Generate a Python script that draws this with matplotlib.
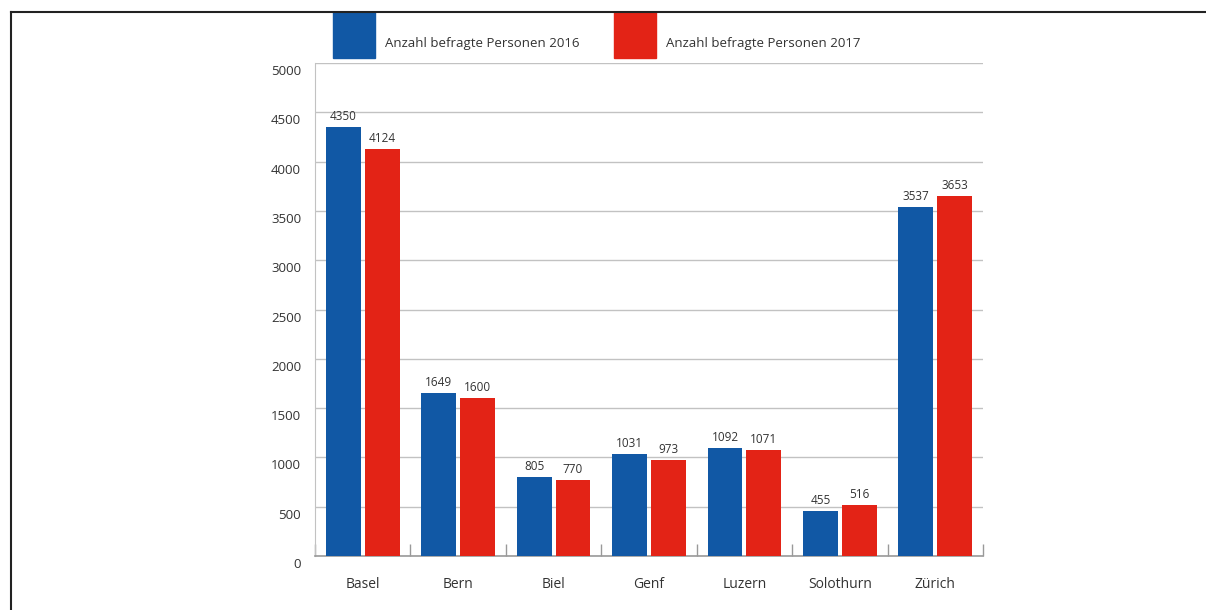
import matplotlib.pyplot as plt
import numpy as np
from matplotlib.lines import Line2D
from matplotlib.patches import Rectangle
import matplotlib.transforms as mtransforms

# Data
cities = ['Basel', 'Bern', 'Biel', 'Genf', 'Luzern', 'Solothurn', 'Zürich']
persons_2016 = [4350, 1649, 805, 1031, 1092, 455, 3537]
persons_2017 = [4124, 1600, 770, 973, 1071, 516, 3653]
series_labels = ['Anzahl befragte Personen 2016', 'Anzahl befragte Personen 2017']
yticks = [0, 500, 1000, 1500, 2000, 2500, 3000, 3500, 4000, 4500, 5000]

blue = '#1158a5'
red = '#e32316'
grid_col = '#c2c2c2'
txt = '#333333'

plt.rcParams['font.family'] = ['Open Sans', 'DejaVu Sans']

fig = plt.figure(figsize=(12.06, 6.10), dpi=100)
ax = fig.add_axes([0.2612, 0.0885, 0.5539, 0.8082])

x = np.arange(len(cities))
w = 0.365
off = 0.204
b1 = ax.bar(x - off, persons_2016, w, color=blue, zorder=3)
b2 = ax.bar(x + off, persons_2017, w, color=red, zorder=3)

for bars, vals in ((b1, persons_2016), (b2, persons_2017)):
    for rect, v in zip(bars, vals):
        ax.text(rect.get_x() + rect.get_width() / 2, v + 40, str(v),
                ha='center', va='bottom', fontsize=8.5, color=txt)

ax.set_xlim(-0.5, len(cities) - 0.5)
ax.set_ylim(0, 5000)
ax.set_yticks(yticks)
ax.set_yticklabels([str(t) for t in yticks], fontsize=9.5, color=txt)
ax.yaxis.grid(True, color=grid_col, linewidth=1, zorder=0)
ax.tick_params(axis='y', length=0, pad=10)
# labels sit a little below their gridlines in the original
shift = mtransforms.ScaledTranslation(0, -7 / 100, fig.dpi_scale_trans)
for lbl in ax.get_yticklabels():
    lbl.set_transform(lbl.get_transform() + shift)

ax.set_xticks(x)
ax.set_xticklabels(cities, fontsize=10, color=txt)
ax.tick_params(axis='x', which='major', length=0, pad=15)
ax.set_xticks(np.arange(-0.5, len(cities)), minor=True)
ax.tick_params(axis='x', which='minor', direction='in', length=9,
               color='#999999', width=1)

for s in ('top', 'right'):
    ax.spines[s].set_visible(False)
ax.spines['left'].set_color(grid_col)
ax.spines['bottom'].set_color('#999999')
ax.spines['bottom'].set_linewidth(1.2)

# Legend drawn as squares with text
for xs, col, lab in ((333, blue, series_labels[0]), (614, red, series_labels[1])):
    fig.patches.append(Rectangle((xs / 1206, 1 - 58 / 610), 42 / 1206, 46 / 610,
                                 transform=fig.transFigure, color=col))
    fig.text((xs + 52) / 1206, 1 - 43 / 610, lab, fontsize=9.5, color=txt,
             va='center', ha='left')

# Frame lines (top and left)
fig.lines.append(Line2D([11 / 1206, 1], [1 - 12 / 610, 1 - 12 / 610],
                        transform=fig.transFigure, color='#222222', linewidth=1.5))
fig.lines.append(Line2D([11 / 1206, 11 / 1206], [0, 1 - 12 / 610],
                        transform=fig.transFigure, color='#222222', linewidth=1.5))

fig.savefig('out.png', dpi=100)
